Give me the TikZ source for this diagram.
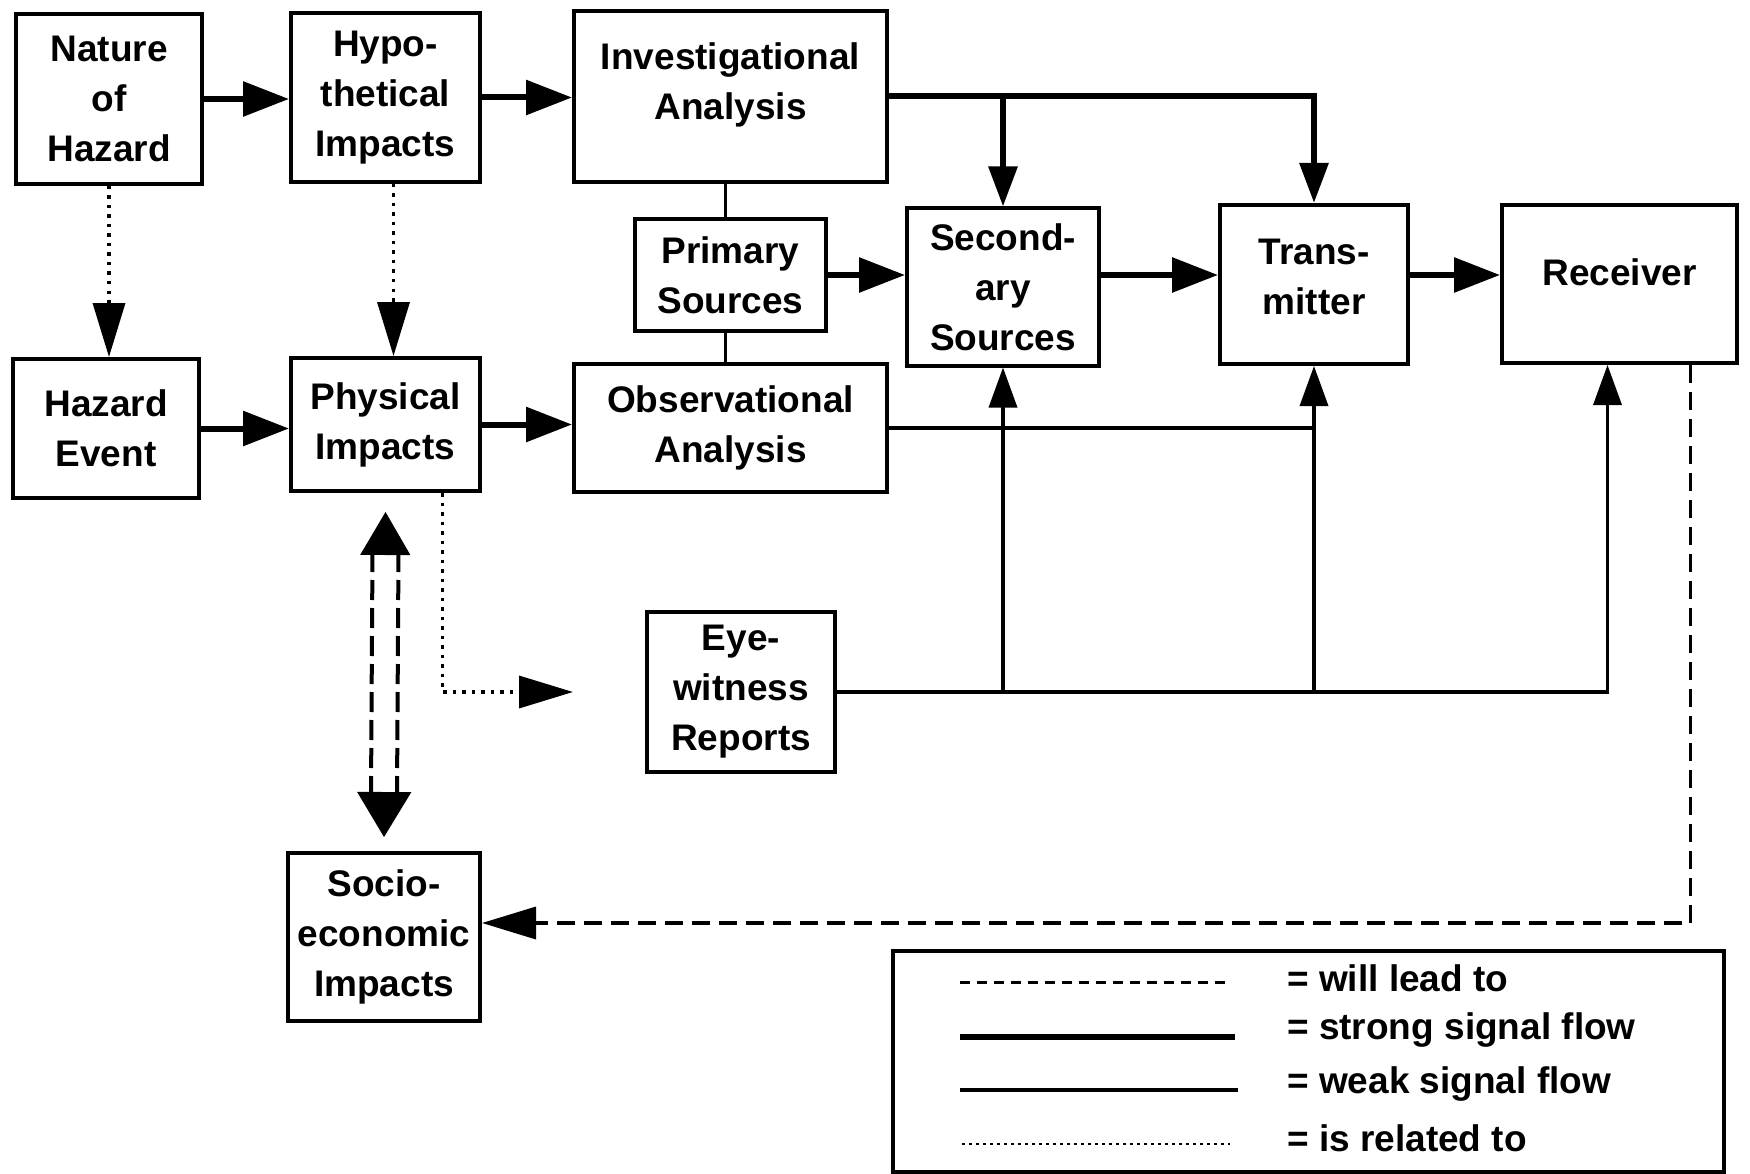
\documentclass[tikz,border=0pt]{standalone}
\usepackage{fontspec}
\setmainfont{Liberation Sans}
\usetikzlibrary{arrows.meta,calc}
\begin{document}
\begin{tikzpicture}[x=1pt,y=-1pt,
  box/.style={draw, line width=4pt, align=center, inner sep=0pt,
    font=\bfseries\fontsize{37}{50}\selectfont},
  boxtext/.style={align=center, inner sep=0pt, font=\bfseries\fontsize{37}{50}\selectfont},
  ltext/.style={anchor=west, inner sep=0pt, font=\bfseries\fontsize{37}{50}\selectfont},
  strong/.style={line width=6pt},
  weak/.style={line width=3.5pt},
  rel/.style={line width=3.5pt, dash pattern=on 3.5pt off 6pt},
  lead/.style={line width=3.5pt, dash pattern=on 18pt off 9pt},
  stip/.style={-{Triangle[length=46pt,width=34pt]}},
  wtip/.style={-{Triangle[length=40pt,width=28pt]}},
  ltip/.style={-{Triangle[length=54pt,width=32pt]}},
]
\useasboundingbox[fill=white] (0,0) rectangle (1750,1174);

% boxes
\node[box, minimum width=186pt, minimum height=170pt] (nature) at (109,99) {Nature\\of\\Hazard};
\node[box, minimum width=189pt, minimum height=169pt] (hypo) at (385.5,97.5) {Hypo-\\thetical\\Impacts};
\node[box, minimum width=313pt, minimum height=171pt,
  label={[boxtext, name=invt, yshift=12pt]center:Investigational\\Analysis}] (inv) at (730.5,96.5) {};
\node[box, minimum width=191pt, minimum height=112pt] (prim) at (730.5,275) {Primary\\Sources};
\node[box, minimum width=192pt, minimum height=157pt] (sec) at (1003,287) {Second-\\ary\\Sources};
\node[box, minimum width=188pt, minimum height=159pt,
  label={[boxtext, name=transt, yshift=8pt]center:Trans-\\mitter}] (trans) at (1314,284.5) {};
\node[box, minimum width=235pt, minimum height=158pt,
  label={[boxtext, name=rect, yshift=12pt]center:Receiver}] (rec) at (1619.5,284) {};
\node[box, minimum width=186pt, minimum height=139pt] (hazev) at (106,428.5) {Hazard\\Event};
\node[box, minimum width=189pt, minimum height=133pt] (phys) at (385.5,424.5) {Physical\\Impacts};
\node[box, minimum width=313pt, minimum height=128pt] (obs) at (730.5,428) {Observational\\Analysis};
\node[box, minimum width=188pt, minimum height=160pt] (eye) at (741,692) {Eye-\\witness\\Reports};
\node[box, minimum width=192pt, minimum height=168pt] (socio) at (384,937) {Socio-\\economic\\Impacts};

% strong flows
\draw[strong, stip] (nature.east) -- (nature.east -| hypo.west);
\draw[strong, stip] (hypo.east) -- (hypo.east -| inv.west);
\draw[strong, stip] (hazev.east) -- (hazev.east -| phys.west);
\draw[strong, stip] (phys.east) -- (phys.east -| obs.west);
\draw[strong, stip] (prim.east) -- (prim.east -| sec.west);
\draw[strong, stip] (sec.east |- prim.east) -- (trans.west |- prim.east);
\draw[strong, stip] (trans.east |- prim.east) -- (rec.west |- prim.east);
\draw[strong, wtip] (inv.east) -| (trans.north);
\draw[strong, wtip] (inv.east -| sec.north) -- (sec.north);

% weak flows
\draw[weak] ($(inv.south)+(-5,0)$) -- ($(prim.north)+(-5,0)$);
\draw[weak] ($(prim.south)+(-5,0)$) -- ($(obs.north)+(-5,0)$);
\draw[weak] (obs.east) -- (obs.east -| trans.south);
\draw[weak, wtip] (eye.east) -| ($(rec.south)+(-12,0)$);
\draw[weak, wtip] (eye.east -| sec.south) -- (sec.south);
\draw[weak, wtip] (eye.east -| trans.south) -- (trans.south);

% is related to
\draw[rel, ltip] (nature.south) -- (nature.south |- hazev.north);
\draw[rel, ltip] ($(hypo.south)+(8,0)$) -- ($(phys.north)+(8,0)$);
\coordinate (eyearr) at ($(eye.west)+(-72,0)$);
\draw[rel, ltip] ($(phys.south)+(57,0)$) |- (eyearr);

% will lead to
\draw[lead, ltip] ($(rec.south)+(71,0)$) |- ($(socio.east)+(0,-14)$);
\coordinate (dA) at ($(phys.south)+(0,19)$);
\coordinate (dB) at ($(socio.north)+(0,-14)$);
\draw[white, line width=1pt, {Triangle[color=black,length=43pt,width=50pt]}-{Triangle[color=black,length=45pt,width=54pt]}] (dA) -- (dB);
\draw[line width=4pt, dash pattern=on 20pt off 8pt] ($(dA)+(-13,40)$) -- ($(dB)+(-13,-42)$);
\draw[line width=4pt, dash pattern=on 20pt off 8pt] ($(dA)+(13,40)$) -- ($(dB)+(13,-42)$);

% legend
\node[box, minimum width=831pt, minimum height=221pt] (legend) at (1308.5,1061) {};
\node[ltext] (l1) at (1287,978) {= will lead to};
\node[ltext] (l2) at (1287,1030) {= strong signal flow};
\node[ltext] (l3) at (1287,1084) {= weak signal flow};
\node[ltext] (l4) at (1287,1138) {= is related to};
\draw[line width=3pt, dash pattern=on 10pt off 7pt] ($(l1.west)+(-327,4)$) -- ($(l1.west)+(-59,4)$);
\draw[strong] ($(l2.west)+(-327,7)$) -- ($(l2.west)+(-52,7)$);
\draw[weak] ($(l3.west)+(-327,6)$) -- ($(l3.west)+(-49,6)$);
\draw[line width=2.5pt, dash pattern=on 3pt off 4pt] ($(l4.west)+(-325,6)$) -- ($(l4.west)+(-57,6)$);
\end{tikzpicture}
\end{document}
